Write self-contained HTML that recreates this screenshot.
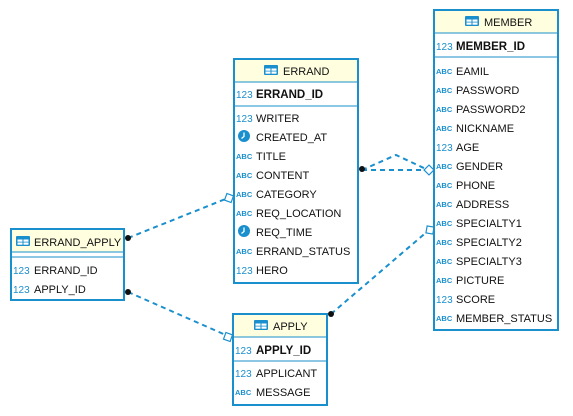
<!DOCTYPE html>
<html><head><meta charset="utf-8"><style>
html,body{margin:0;padding:0;background:#fff;width:573px;height:416px;overflow:hidden}
svg{display:block}
text{font-family:"Liberation Sans",sans-serif;font-size:11px;fill:#111}
.n{font-size:10px;fill:#1a8fce}
.a{font-size:7.5px;font-weight:bold;fill:#1a8fce}
.b{font-weight:bold;font-size:11.5px}
</style></head><body>
<svg width="573" height="416" xmlns="http://www.w3.org/2000/svg">
<defs>
<g id="tbl"><rect x="0" y="0" width="14" height="10" rx="1" fill="#1a8fce"/><rect x="1.5" y="3.5" width="5" height="2.2" fill="#fff"/><rect x="7.5" y="3.5" width="5" height="2.2" fill="#fff"/><rect x="1.5" y="6.5" width="5" height="2.2" fill="#fff"/><rect x="7.5" y="6.5" width="5" height="2.2" fill="#fff"/></g>
<g id="clk"><circle cx="6" cy="6" r="6" fill="#1a8fce"/><path d="M6 2.5V6.5L3.5 8.5" stroke="#fff" stroke-width="1.3" fill="none"/></g>
</defs>
<g stroke="#1a8fce" stroke-width="2" stroke-dasharray="5,4" fill="none">
<path d="M362 170H428"/>
<path d="M362 170L396 155L428 170"/>
<path d="M128 238L228 198"/>
<path d="M128 292L228 336"/>
<path d="M331 314L429 230"/>
</g>
<g fill="#111"><circle cx="362" cy="169" r="3"/><circle cx="128" cy="238" r="3"/><circle cx="128" cy="292" r="3"/><circle cx="331" cy="314" r="3"/></g>
<g fill="#fff" stroke="#1a8fce" stroke-width="1.2">
<rect x="-3.5" y="-3.5" width="7" height="7" transform="translate(429 170) rotate(45)"/>
<rect x="-3.5" y="-3.5" width="7" height="7" transform="translate(229 198) rotate(20)"/>
<rect x="-3.5" y="-3.5" width="7" height="7" transform="translate(228 337) rotate(20)"/>
<rect x="-3.5" y="-3.5" width="7" height="7" transform="translate(430 230) rotate(10)"/>
</g>

<!-- ERRAND -->
<rect x="234" y="59" width="124" height="224" fill="#fff" stroke="#1a8fce" stroke-width="2"/>
<rect x="235" y="60" width="122" height="22" fill="#ffffe0"/>
<line x1="234" y1="82" x2="358" y2="82" stroke="#1a8fce"/>
<line x1="234" y1="106" x2="358" y2="106" stroke="#1a8fce"/>
<use href="#tbl" x="264" y="65"/><text x="283" y="75">ERRAND</text>
<text class="n" x="236" y="98">123</text><text class="b" x="256" y="98">ERRAND_ID</text>
<text class="n" x="236" y="122">123</text><text x="256" y="122">WRITER</text>
<use href="#clk" x="238" y="130"/><text x="256" y="141">CREATED_AT</text>
<text class="a" x="236" y="159">ABC</text><text x="256" y="160">TITLE</text>
<text class="a" x="236" y="178">ABC</text><text x="256" y="179">CONTENT</text>
<text class="a" x="236" y="197">ABC</text><text x="256" y="198">CATEGORY</text>
<text class="a" x="236" y="216">ABC</text><text x="256" y="217">REQ_LOCATION</text>
<use href="#clk" x="238" y="225"/><text x="256" y="236">REQ_TIME</text>
<text class="a" x="236" y="254">ABC</text><text x="256" y="255">ERRAND_STATUS</text>
<text class="n" x="236" y="274">123</text><text x="256" y="274">HERO</text>

<!-- MEMBER -->
<rect x="434" y="10" width="124" height="320" fill="#fff" stroke="#1a8fce" stroke-width="2"/>
<rect x="435" y="11" width="122" height="22" fill="#ffffe0"/>
<line x1="434" y1="33" x2="558" y2="33" stroke="#1a8fce"/>
<line x1="434" y1="57" x2="558" y2="57" stroke="#1a8fce"/>
<use href="#tbl" x="465" y="16"/><text x="484" y="26">MEMBER</text>
<text class="n" x="436" y="50">123</text><text class="b" x="456" y="50">MEMBER_ID</text>
<g>
<text class="a" x="436" y="74">ABC</text><text x="456" y="75">EAMIL</text>
<text class="a" x="436" y="93">ABC</text><text x="456" y="94">PASSWORD</text>
<text class="a" x="436" y="112">ABC</text><text x="456" y="113">PASSWORD2</text>
<text class="a" x="436" y="131">ABC</text><text x="456" y="132">NICKNAME</text>
<text class="n" x="436" y="151">123</text><text x="456" y="151">AGE</text>
<text class="a" x="436" y="169">ABC</text><text x="456" y="170">GENDER</text>
<text class="a" x="436" y="188">ABC</text><text x="456" y="189">PHONE</text>
<text class="a" x="436" y="207">ABC</text><text x="456" y="208">ADDRESS</text>
<text class="a" x="436" y="226">ABC</text><text x="456" y="227">SPECIALTY1</text>
<text class="a" x="436" y="245">ABC</text><text x="456" y="246">SPECIALTY2</text>
<text class="a" x="436" y="264">ABC</text><text x="456" y="265">SPECIALTY3</text>
<text class="a" x="436" y="283">ABC</text><text x="456" y="284">PICTURE</text>
<text class="n" x="436" y="303">123</text><text x="456" y="303">SCORE</text>
<text class="a" x="436" y="321">ABC</text><text x="456" y="322">MEMBER_STATUS</text>
</g>

<!-- ERRAND_APPLY -->
<rect x="11" y="229" width="113" height="71" fill="#fff" stroke="#1a8fce" stroke-width="2"/>
<rect x="12" y="230" width="111" height="22" fill="#ffffe0"/>
<line x1="11" y1="252" x2="124" y2="252" stroke="#1a8fce"/>
<line x1="11" y1="257" x2="124" y2="257" stroke="#1a8fce"/>
<use href="#tbl" x="16" y="236"/><text x="34" y="246">ERRAND_APPLY</text>
<text class="n" x="13" y="274">123</text><text x="34" y="274">ERRAND_ID</text>
<text class="n" x="13" y="293">123</text><text x="34" y="293">APPLY_ID</text>

<!-- APPLY -->
<rect x="233" y="314" width="94" height="91" fill="#fff" stroke="#1a8fce" stroke-width="2"/>
<rect x="234" y="315" width="92" height="22" fill="#ffffe0"/>
<line x1="233" y1="337" x2="327" y2="337" stroke="#1a8fce"/>
<line x1="233" y1="361" x2="327" y2="361" stroke="#1a8fce"/>
<use href="#tbl" x="254" y="320"/><text x="273" y="330">APPLY</text>
<text class="n" x="235" y="354">123</text><text class="b" x="256" y="354">APPLY_ID</text>
<text class="n" x="235" y="377">123</text><text x="256" y="377">APPLICANT</text>
<text class="a" x="235" y="395">ABC</text><text x="256" y="396">MESSAGE</text>
</svg>
</body></html>
